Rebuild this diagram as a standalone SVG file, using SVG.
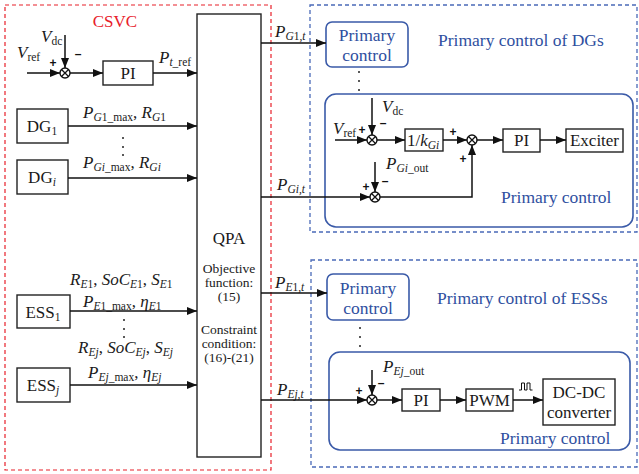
<svg xmlns="http://www.w3.org/2000/svg" xmlns:xlink="http://www.w3.org/1999/xlink" width="639" height="474" viewBox="0 0 639 474" font-family="'Liberation Serif','Times New Roman','DejaVu Serif',serif">
<style>
.t{font-family:"Liberation Serif","Times New Roman","DejaVu Serif",serif;font-size:17px;fill:#1a1a1a}
.sm{font-size:13.5px}
.i{font-style:italic}
.s{font-size:11.5px}
.b{fill:#2f4fa0;font-size:17.5px}
.r{fill:#e8202a}
.box{fill:#fff;stroke:#222;stroke-width:1.4}
.ln{stroke:#111;stroke-width:1.5;fill:none}
.pc{fill:none;stroke:#3a5aa8;stroke-width:1.6}
.db{fill:none;stroke:#4a6ab8;stroke-width:1.3;stroke-dasharray:4 3}
.dr{fill:none;stroke:#e8202a;stroke-width:1.2;stroke-dasharray:4 3}
.pm{font-family:"Liberation Sans","DejaVu Sans",sans-serif;font-size:12px;font-weight:bold;fill:#111;text-anchor:middle}
.dot{fill:#222}
</style>
<defs>
<marker id="ah" markerWidth="10" markerHeight="8" refX="10" refY="4" orient="auto" markerUnits="userSpaceOnUse"><path d="M0 0L10 4L0 8z" fill="#111"/></marker>
<g id="sum"><circle r="5" fill="#fff" stroke="#111" stroke-width="1.4"/><path d="M-3.5-3.5L3.5 3.5M-3.5 3.5L3.5-3.5" stroke="#111" stroke-width="1.3"/></g>
</defs>

<!-- frames -->
<rect id="csvc-frame" class="dr" x="5" y="5" width="266" height="465"/>
<rect id="dg-frame" class="db" x="310" y="5" width="327" height="227"/>
<rect id="ess-frame" class="db" x="311" y="260" width="326" height="207"/>
<text class="t r" x="115" y="27" text-anchor="middle" font-size="18.5">CSVC</text>

<!-- CSVC inner control -->
<g id="csvc-ctrl">
<text class="t" x="17" y="58"><tspan class="i">V</tspan><tspan class="s" dy="3">ref</tspan></text>
<text class="t" x="41" y="42"><tspan class="i">V</tspan><tspan class="s" dy="3">dc</tspan></text>
<use xlink:href="#sum" x="65" y="73"/>
<text class="pm" x="53" y="67">+</text>
<text class="pm" x="78" y="58">–</text>
<rect class="box" x="103" y="61" width="50" height="24"/>
<text class="t" x="128" y="79" text-anchor="middle">PI</text>
<text class="t" x="159" y="63"><tspan class="i">P</tspan><tspan class="s" dy="3"><tspan class="i">t</tspan>_ref</tspan></text>
</g>

<g id="dg1"><rect class="box" x="17" y="109" width="51" height="34"/><text class="t" x="42" y="132" text-anchor="middle">DG<tspan class="s" dy="3">1</tspan></text></g>
<g id="dgi"><rect class="box" x="17" y="160" width="51" height="34"/><text class="t" x="42" y="183" text-anchor="middle">DG<tspan class="s i" dy="3">i</tspan></text></g>
<g id="ess1"><rect class="box" x="17" y="295" width="53" height="33"/><text class="t" x="43" y="318" text-anchor="middle">ESS<tspan class="s" dy="3">1</tspan></text></g>
<g id="essj"><rect class="box" x="17" y="368" width="53" height="34"/><text class="t" x="43" y="391" text-anchor="middle">ESS<tspan class="s i" dy="3">j</tspan></text></g>

<g id="labels-left">
<text class="t" x="83" y="118"><tspan class="i">P</tspan><tspan class="s" dy="3"><tspan class="i">G</tspan>1_max</tspan><tspan dy="-3">, </tspan><tspan class="i">R</tspan><tspan class="s" dy="3"><tspan class="i">G</tspan>1</tspan></text>
<text class="t" x="83" y="168"><tspan class="i">P</tspan><tspan class="s" dy="3"><tspan class="i">Gi</tspan>_max</tspan><tspan dy="-3">, </tspan><tspan class="i">R</tspan><tspan class="s i" dy="3">Gi</tspan></text>
<text class="t" x="70" y="285"><tspan class="i">R</tspan><tspan class="s i" dy="3">E</tspan><tspan class="s">1</tspan><tspan dy="-3">, </tspan><tspan class="i">SoC</tspan><tspan class="s i" dy="3">E</tspan><tspan class="s">1</tspan><tspan dy="-3">, </tspan><tspan class="i">S</tspan><tspan class="s i" dy="3">E</tspan><tspan class="s">1</tspan></text>
<text class="t" x="83" y="307"><tspan class="i">P</tspan><tspan class="s" dy="3"><tspan class="i">E</tspan>1_max</tspan><tspan dy="-3">, </tspan><tspan class="i">η</tspan><tspan class="s i" dy="3">E</tspan><tspan class="s">1</tspan></text>
<text class="t" x="78" y="353"><tspan class="i">R</tspan><tspan class="s i" dy="3">Ej</tspan><tspan dy="-3">, </tspan><tspan class="i">SoC</tspan><tspan class="s i" dy="3">Ej</tspan><tspan dy="-3">, </tspan><tspan class="i">S</tspan><tspan class="s i" dy="3">Ej</tspan></text>
<text class="t" x="88" y="378"><tspan class="i">P</tspan><tspan class="s" dy="3"><tspan class="i">Ej</tspan>_max</tspan><tspan dy="-3">, </tspan><tspan class="i">η</tspan><tspan class="s i" dy="3">Ej</tspan></text>
<circle class="dot" cx="123" cy="138" r="1"/><circle class="dot" cx="123" cy="147" r="1"/><circle class="dot" cx="123" cy="155" r="1"/>
<circle class="dot" cx="124" cy="320" r="1"/><circle class="dot" cx="124" cy="329" r="1"/><circle class="dot" cx="124" cy="337" r="1"/>
</g>

<g id="qpa">
<rect class="box" x="197" y="14" width="64" height="443"/>
<text class="t" x="229" y="244" text-anchor="middle" font-size="18.5">QPA</text>
<text class="t sm" text-anchor="middle"><tspan x="229" y="273">Objective</tspan><tspan x="229" y="287">function:</tspan><tspan x="229" y="301">(15)</tspan><tspan x="229" y="334">Constraint</tspan><tspan x="229" y="348">condition:</tspan><tspan x="229" y="362">(16)-(21)</tspan></text>
</g>

<g id="right-labels">
<text class="t" x="275" y="37"><tspan class="i">P</tspan><tspan class="s i" dy="3">G</tspan><tspan class="s">1,</tspan><tspan class="s i">t</tspan></text>
<text class="t" x="277" y="190"><tspan class="i">P</tspan><tspan class="s i" dy="3">Gi,t</tspan></text>
<text class="t" x="275" y="288"><tspan class="i">P</tspan><tspan class="s i" dy="3">E</tspan><tspan class="s">1,</tspan><tspan class="s i">t</tspan></text>
<text class="t" x="277" y="395"><tspan class="i">P</tspan><tspan class="s i" dy="3">Ej,t</tspan></text>
</g>

<!-- DG primary control -->
<g id="dg-pc-small">
<rect class="pc" x="326" y="22" width="82" height="45" rx="6"/>
<text class="t b" text-anchor="middle"><tspan x="367" y="41">Primary</tspan><tspan x="367" y="61">control</tspan></text>
</g>
<text class="t b" x="438" y="46">Primary control of DGs</text>
<circle class="dot" cx="359" cy="72" r="1"/><circle class="dot" cx="359" cy="81" r="1"/><circle class="dot" cx="359" cy="90" r="1"/>

<g id="dg-pc-big">
<rect class="pc" x="325" y="94" width="308" height="133" rx="11"/>
<text class="t" x="333" y="134"><tspan class="i">V</tspan><tspan class="s" dy="3">ref</tspan></text>
<text class="t" x="382" y="112"><tspan class="i">V</tspan><tspan class="s" dy="3">dc</tspan></text>
<use xlink:href="#sum" x="372" y="140"/>
<text class="pm" x="362" y="134">+</text>
<text class="pm" x="383" y="127">–</text>
<rect class="box" x="405" y="129" width="38" height="22"/>
<text class="t" x="407" y="146">1/<tspan class="i">k</tspan><tspan class="s i" dy="3">Gi</tspan></text>
<use xlink:href="#sum" x="472" y="140"/>
<text class="pm" x="453" y="136">+</text>
<text class="pm" x="463" y="163">+</text>
<rect class="box" x="503" y="129" width="37" height="23"/>
<text class="t" x="521.5" y="146" text-anchor="middle">PI</text>
<rect class="box" x="566" y="129" width="57" height="23"/>
<text class="t" x="594.5" y="146" text-anchor="middle">Exciter</text>
<text class="t" x="386" y="169"><tspan class="i">P</tspan><tspan class="s" dy="3"><tspan class="i">Gi</tspan>_out</tspan></text>
<use xlink:href="#sum" x="375" y="197"/>
<text class="pm" x="366" y="191">+</text>
<text class="pm" x="385" y="185">–</text>
<text class="t b" x="501" y="203">Primary control</text>
</g>

<!-- ESS primary control -->
<g id="ess-pc-small">
<rect class="pc" x="327" y="274" width="82" height="46" rx="6"/>
<text class="t b" text-anchor="middle"><tspan x="368" y="294">Primary</tspan><tspan x="368" y="314">control</tspan></text>
</g>
<text class="t b" x="437" y="304">Primary control of ESSs</text>
<circle class="dot" cx="360" cy="328" r="1"/><circle class="dot" cx="360" cy="337" r="1"/><circle class="dot" cx="360" cy="346" r="1"/>

<g id="ess-pc-big">
<rect class="pc" x="329" y="352" width="301" height="98" rx="11"/>
<text class="t" x="383" y="372"><tspan class="i">P</tspan><tspan class="s" dy="3"><tspan class="i">Ej</tspan>_out</tspan></text>
<use xlink:href="#sum" x="372" y="400"/>
<text class="pm" x="359" y="395">+</text>
<text class="pm" x="381" y="387">–</text>
<rect class="box" x="402" y="389" width="38" height="22"/>
<text class="t" x="421" y="406" text-anchor="middle">PI</text>
<rect class="box" x="466" y="389" width="47" height="22"/>
<text class="t" x="489.5" y="406" text-anchor="middle">PWM</text>
<rect class="box" x="543" y="379" width="72" height="46"/>
<text class="t" text-anchor="middle"><tspan x="579" y="398">DC-DC</tspan><tspan x="579" y="418">converter</tspan></text>
<path d="M519 390H521.5V383H524.5V390H527V383H530V390H532.5" fill="none" stroke="#111" stroke-width="1"/>
<text class="t b" x="500" y="444">Primary control</text>
</g>

<g id="connectors">
<line class="ln" x1="27" y1="73" x2="60" y2="73" marker-end="url(#ah)"/>
<line class="ln" x1="65" y1="35" x2="65" y2="68" marker-end="url(#ah)"/>
<line class="ln" x1="70" y1="73" x2="103" y2="73" marker-end="url(#ah)"/>
<line class="ln" x1="153" y1="73" x2="197" y2="73" marker-end="url(#ah)"/>
<line class="ln" x1="68" y1="126" x2="197" y2="126" marker-end="url(#ah)"/>
<line class="ln" x1="68" y1="178" x2="197" y2="178" marker-end="url(#ah)"/>
<line class="ln" x1="70" y1="311" x2="197" y2="311" marker-end="url(#ah)"/>
<line class="ln" x1="70" y1="385" x2="197" y2="385" marker-end="url(#ah)"/>
<line class="ln" x1="261" y1="43" x2="326" y2="43" marker-end="url(#ah)"/>
<line class="ln" x1="261" y1="197" x2="370" y2="197" marker-end="url(#ah)"/>
<line class="ln" x1="261" y1="293" x2="327" y2="293" marker-end="url(#ah)"/>
<line class="ln" x1="261" y1="400" x2="367" y2="400" marker-end="url(#ah)"/>
<line class="ln" x1="335" y1="140" x2="367" y2="140" marker-end="url(#ah)"/>
<line class="ln" x1="372" y1="98" x2="372" y2="135" marker-end="url(#ah)"/>
<line class="ln" x1="377" y1="140" x2="405" y2="140" marker-end="url(#ah)"/>
<line class="ln" x1="443" y1="140" x2="467" y2="140" marker-end="url(#ah)"/>
<line class="ln" x1="477" y1="140" x2="503" y2="140" marker-end="url(#ah)"/>
<line class="ln" x1="540" y1="140" x2="566" y2="140" marker-end="url(#ah)"/>
<line class="ln" x1="375" y1="162" x2="375" y2="192" marker-end="url(#ah)"/>
<polyline class="ln" points="380,197 472,197 472,145" marker-end="url(#ah)"/>
<line class="ln" x1="372" y1="370" x2="372" y2="395" marker-end="url(#ah)"/>
<line class="ln" x1="377" y1="400" x2="402" y2="400" marker-end="url(#ah)"/>
<line class="ln" x1="440" y1="400" x2="466" y2="400" marker-end="url(#ah)"/>
<line class="ln" x1="513" y1="400" x2="543" y2="400" marker-end="url(#ah)"/>
</g>
</svg>
